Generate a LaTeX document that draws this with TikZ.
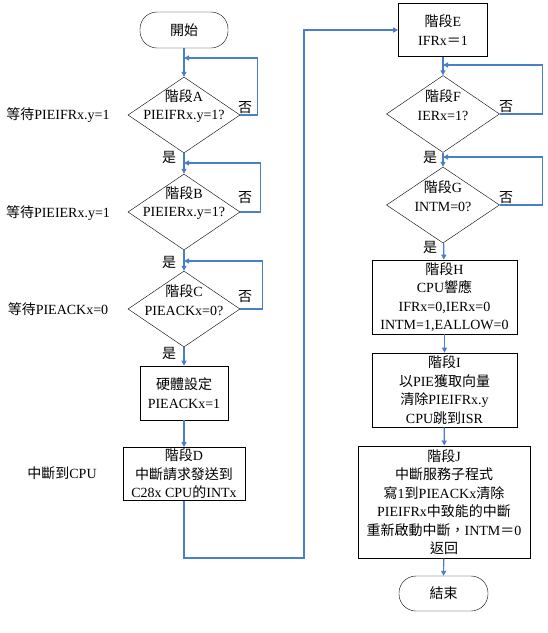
\documentclass[tikz,border=0pt]{standalone}
\usepackage{fontspec}
\setmainfont{Liberation Serif}
\newfontfamily\cjk{Noto Sans CJK TC}
\usetikzlibrary{shapes.geometric,arrows.meta}
\definecolor{fc}{RGB}{74,126,200}
\newcommand{\zh}[1]{{\cjk #1}}
\begin{document}
\begin{tikzpicture}[x=1pt,y=-1pt,
 txt/.style={font=\fontsize{14}{18.5}\selectfont, align=center, inner sep=0},
 term/.style={txt, draw, rounded corners=17, minimum width=88, minimum height=36},
 box/.style={txt, draw, line width=0.7pt},
 dec/.style={draw, diamond, inner sep=0, minimum width=112, minimum height=76},
 flow/.style={draw=fc, line width=1.2pt, -{Triangle[length=5pt,width=5pt]}},
 lab/.style={font=\fontsize{14}{16}\selectfont, inner sep=0}]
\useasboundingbox (0,0) rectangle (548,633);
% left column
\node[term] (start) at (184,30) {\zh{開始}};
\node[dec] (A) at (184,115) {};
\node[txt] (At) at (184,106) {\zh{階段}A\\PIEIFRx.y=1?};
\node[dec] (B) at (184,212) {};
\node[txt] (Bt) at (184,203) {\zh{階段}B\\PIEIERx.y=1?};
\node[dec] (C) at (184,309) {};
\node[txt] (Ct) at (184,300) {\zh{階段}C\\PIEACKx=0?};
\node[box, minimum width=88, minimum height=54] (hw) at (184,393) {\zh{硬體設定}\\PIEACKx=1};
\node[box, minimum width=122, minimum height=53] (D) at (184,474) {\zh{階段}D\\\zh{中斷請求發送到}\\C28x CPU\zh{的}INTx};
% left labels
\node[lab] (LA) at (58,115) {\zh{等待}PIEIFRx.y=1};
\node[lab] (LB) at (58,213) {\zh{等待}PIEIERx.y=1};
\node[lab] (LC) at (58,309) {\zh{等待}PIEACKx=0};
\node[lab] (LD) at (62,473) {\zh{中斷到}CPU};
% right column
\node[box, minimum width=89, minimum height=53] (E) at (443,30) {\zh{階段}E\\IFRx\zh{＝}1};
\node[dec, minimum width=113, minimum height=77] (F) at (443,114) {};
\node[txt] (Ft) at (443,105) {\zh{階段}F\\IERx=1?};
\node[dec, minimum width=113] (G) at (443,205) {};
\node[txt] (Gt) at (443,196) {\zh{階段}G\\INTM=0?};
\node[box, minimum width=145, minimum height=74] (H) at (444.5,297) {\zh{階段}H\\CPU\zh{響應}\\IFRx=0,IERx=0\\INTM=1,EALLOW=0};
\node[box, minimum width=145, minimum height=74] (I) at (444.5,390) {\zh{階段}I\\\zh{以}PIE\zh{獲取向量}\\\zh{清除}PIEIFRx.y\\CPU\zh{跳到}ISR};
\node[box, line width=1pt, minimum width=172, minimum height=112] (J) at (444,502) {\zh{階段}J\\\zh{中斷服務子程式}\\\zh{寫}1\zh{到}PIEACKx\zh{清除}\\PIEIFRx\zh{中致能的中斷}\\\zh{重新啟動中斷，}INTM\zh{＝}0\\\zh{返回}};
\node[term, minimum width=89, minimum height=35] (end) at (443.5,593.5) {\zh{結束}};
% yes / no labels
\node[lab] (nA) at (245,108) {\zh{否}};
\node[lab] (nB) at (245,198) {\zh{否}};
\node[lab] (nC) at (245,297) {\zh{否}};
\node[lab] (nF) at (506,107) {\zh{否}};
\node[lab] (nG) at (506,198) {\zh{否}};
\node[lab] (yA) at (169,157) {\zh{是}};
\node[lab] (yB) at (169,262) {\zh{是}};
\node[lab] (yC) at (169,353) {\zh{是}};
\node[lab] (yF) at (430,157) {\zh{是}};
\node[lab] (yG) at (430,247) {\zh{是}};
% join points
\coordinate (jA) at (184,58);
\coordinate (jB) at (184,163);
\coordinate (jC) at (184,261);
\coordinate (jF) at (443,65);
\coordinate (jG) at (443,157);
\coordinate (c1) at (304,558);
% connectors
\draw[flow] (start) -- (A);
\draw[flow] (A.east) -- ++(17,0) |- (jA);
\draw[flow] (A) -- (B);
\draw[flow] (B.east) -- ++(20,0) |- (jB);
\draw[flow] (B) -- (C);
\draw[flow] (C.east) -- ++(22,0) |- (jC);
\draw[flow] (C) -- (hw);
\draw[flow] (hw) -- (D);
\draw[flow] (D.south) |- (c1) |- (E.west);
\draw[flow] (E) -- (F);
\draw[flow] (F.east) -- ++(42.5,0) |- (jF);
\draw[flow] (F) -- (G);
\draw[flow] (G.east) -- ++(42.5,0) |- (jG);
\draw[flow] (G) -- (H);
\draw[flow] (H) -- (I);
\draw[flow] (I) -- (J);
\draw[flow] (J) -- (end);
\end{tikzpicture}
\end{document}
